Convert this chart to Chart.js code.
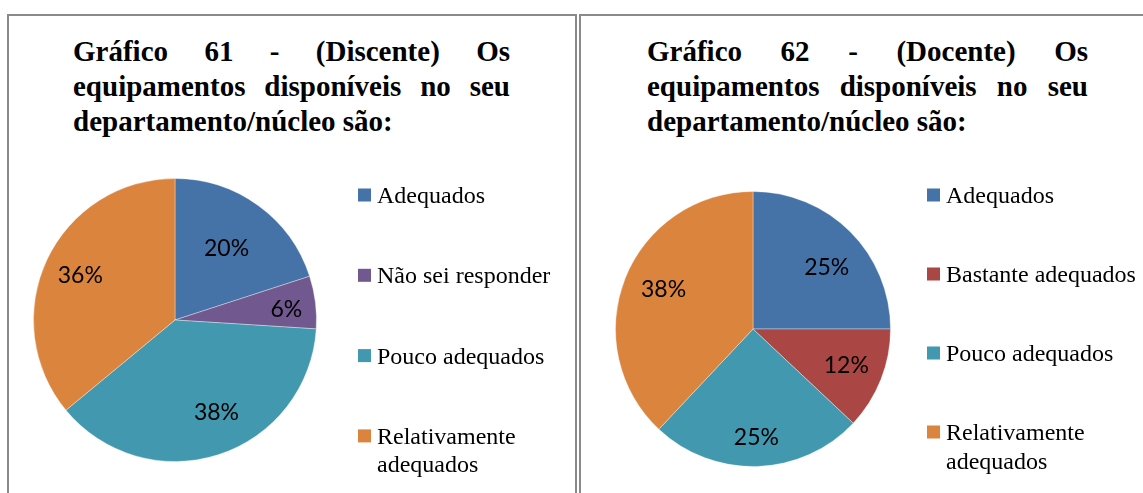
<!DOCTYPE html>
<html lang="pt">
<head>
<meta charset="utf-8">
<title>Equipamentos disponíveis</title>
<script src="https://cdn.jsdelivr.net/npm/chart.js@4.4.1/dist/chart.umd.min.js"></script>
<style>
  html,body{margin:0;padding:0;background:#fff;overflow:hidden}
  body{width:1143px;height:493px;position:relative}
  .panel{position:absolute;top:14px;height:500px;border:2px solid #8a8a8a;border-bottom:none;box-sizing:border-box}
  #p1{left:7px;width:570px}
  #p2{left:579px;width:600px}
  .title{position:absolute;top:34px;font:bold 29px/35px "Liberation Serif","Times New Roman",serif;color:#000;text-align:justify;text-align-last:left}
  #t1{left:73px;width:437px}
  #t2{left:647px;width:441px}
  canvas{position:absolute;top:0}
  #c1{left:0}
  #c2{left:577px}
</style>
</head>
<body>
<div class="panel" id="p1"></div>
<div class="panel" id="p2"></div>
<div class="title" id="t1">Gráfico 61 - (Discente) Os equipamentos disponíveis no seu departamento/núcleo são:</div>
<div class="title" id="t2">Gráfico 62 - (Docente) Os equipamentos disponíveis no seu departamento/núcleo são:</div>
<canvas id="c1" width="577" height="493"></canvas>
<canvas id="c2" width="566" height="493"></canvas>
<script>
// Discente
const discenteLabels=['Adequados','Não sei responder','Pouco adequados','Relativamente adequados'];
const discenteValues=[20,6,38,36];
const discenteColors=['#4572A7','#71588F','#4198AF','#DB843D'];
// Docente
const docenteLabels=['Adequados','Bastante adequados','Pouco adequados','Relativamente adequados'];
const docenteValues=[25,12,25,38];
const docenteColors=['#4572A7','#AA4643','#4198AF','#DB843D'];

function wrap(ctx,text,max){
  const words=text.split(' '); const out=[]; let cur='';
  words.forEach(w=>{const t=cur?cur+' '+w:w; if(cur && ctx.measureText(t).width>max){out.push(cur); cur=w;} else cur=t;});
  if(cur) out.push(cur); return out;
}

// percent labels inside the slices (radius factor + small angle nudge per slice)
const pctLabels={id:'pctLabels',afterDatasetsDraw(chart,args,o){
  const ctx=chart.ctx, meta=chart.getDatasetMeta(0), vals=chart.data.datasets[0].data;
  ctx.save(); ctx.font=o.font; ctx.fillStyle='#000'; ctx.textAlign='center'; ctx.textBaseline='middle';
  meta.data.forEach((arc,i)=>{
    const p=arc.getProps(['x','y','startAngle','endAngle','outerRadius'],true);
    const a=(p.startAngle+p.endAngle)/2+(o.nudge[i]||0)*Math.PI/180, r=p.outerRadius*(o.radius[i]||0.72);
    ctx.fillText(vals[i]+'%',p.x+Math.cos(a)*r,p.y+Math.sin(a)*r);
  });
  ctx.restore();
}};

// legend to the right of the pie, items spread down the panel
const sideLegend={id:'sideLegend',afterDraw(chart,args,o){
  const ctx=chart.ctx, ds=chart.data.datasets[0];
  ctx.save(); ctx.font=o.font; ctx.textAlign='left'; ctx.textBaseline='alphabetic';
  chart.data.labels.forEach((lab,i)=>{
    const y=o.top+i*o.step;
    ctx.fillStyle=ds.backgroundColor[i]; ctx.fillRect(o.x,y-o.box/2,o.box,o.box);
    ctx.fillStyle='#000';
    wrap(ctx,lab,o.maxWidth).forEach((ln,k)=>ctx.fillText(ln,o.x+o.gap,y+o.shift+k*o.lineHeight));
  });
  ctx.restore();
}};

function pie(id,labels,values,colors,pad,legend,radius,nudge){
  return new Chart(document.getElementById(id),{
    type:'pie',
    data:{labels,datasets:[{data:values,backgroundColor:colors,borderColor:'rgba(255,255,255,0.35)',borderWidth:1}]},
    options:{
      responsive:false,animation:false,events:[],
      layout:{padding:pad},
      plugins:{
        legend:{display:false},tooltip:{enabled:false},
        pctLabels:{font:'23px Lato, "Open Sans", sans-serif',radius,nudge},
        sideLegend:Object.assign({font:'24px "Liberation Serif", "Times New Roman", serif',box:13,gap:19,shift:8,lineHeight:28.5},legend)
      }
    },
    plugins:[pctLabels,sideLegend]
  });
}

pie('c1',discenteLabels,discenteValues,discenteColors,
  {left:33,right:260,top:178,bottom:31},
  {x:358,top:195,step:80.3,maxWidth:195},
  [0.62,0.79,0.72,0.74],[0,2,-6,0]);
pie('c2',docenteLabels,docenteValues,docenteColors,
  {left:38,right:252,top:191,bottom:26},
  {x:350,top:195,step:79,maxWidth:200},
  [0.70,0.73,0.79,0.71],[5,0,0,2]);
</script>
</body>
</html>
